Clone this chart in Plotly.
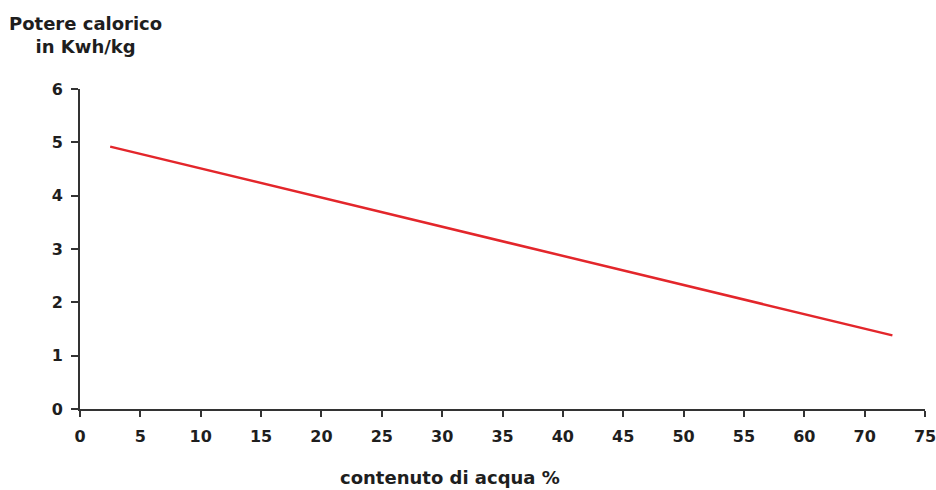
import plotly.graph_objects as go

# Data (x in axis tick-position units; ticks are evenly spaced, labels as printed)
x_values = [2.5, 67.3]
y_values = [4.92, 1.38]

x_tick_positions = [0, 5, 10, 15, 20, 25, 30, 35, 40, 45, 50, 55, 60, 65, 70]
x_tick_labels = ["0", "5", "10", "15", "20", "25", "30", "35", "40", "45", "50", "55", "60", "70", "75"]
y_tick_values = [0, 1, 2, 3, 4, 5, 6]

font_family = "DejaVu Sans, sans-serif"
text_color = "#1e1e1e"

fig = go.Figure()
fig.add_trace(go.Scatter(
    x=x_values, y=y_values, mode="lines",
    line=dict(color="#e3262b", width=2.5),
    showlegend=False, hoverinfo="skip",
))

fig.update_layout(
    width=936, height=490,
    margin=dict(l=80, r=11, t=89, b=81, autoexpand=False),
    paper_bgcolor="white", plot_bgcolor="white",
    font=dict(family=font_family, color=text_color, size=16),
)

tick_font = dict(size=16, family=font_family, color=text_color, weight="bold")

fig.update_xaxes(
    range=[0, 70], tickmode="array", tickvals=x_tick_positions, ticktext=x_tick_labels,
    showgrid=False, zeroline=False, showline=True, linecolor="#333333", linewidth=2,
    ticks="outside", ticklen=6, tickwidth=2, tickcolor="#333333",
    tickfont=tick_font, ticklabelstandoff=6, ticklabeloverflow="allow", automargin=False,
)
fig.update_yaxes(
    range=[0, 6], tickmode="array", tickvals=y_tick_values,
    showgrid=False, zeroline=False, showline=True, linecolor="#333333", linewidth=2,
    ticks="outside", ticklen=7, tickwidth=2, tickcolor="#333333",
    tickfont=tick_font, ticklabelstandoff=5, ticklabeloverflow="allow", automargin=False,
)

fig.add_annotation(
    text="<b>Potere calorico</b><br><b>in Kwh/kg</b>", xref="paper", yref="paper",
    x=0.006, y=1.17, xanchor="center", yanchor="middle", showarrow=False,
    align="center", font=dict(size=18, family=font_family, color=text_color),
)
fig.add_annotation(
    text="<b>contenuto di acqua %</b>", xref="paper", yref="paper",
    x=0.438, y=-0.2125, xanchor="center", yanchor="middle", showarrow=False,
    font=dict(size=18, family=font_family, color=text_color),
)

fig.write_html(
    "out.html",
    config={"displayModeBar": False},
    post_script="document.body.style.margin='0';document.body.style.overflow='hidden';",
)
